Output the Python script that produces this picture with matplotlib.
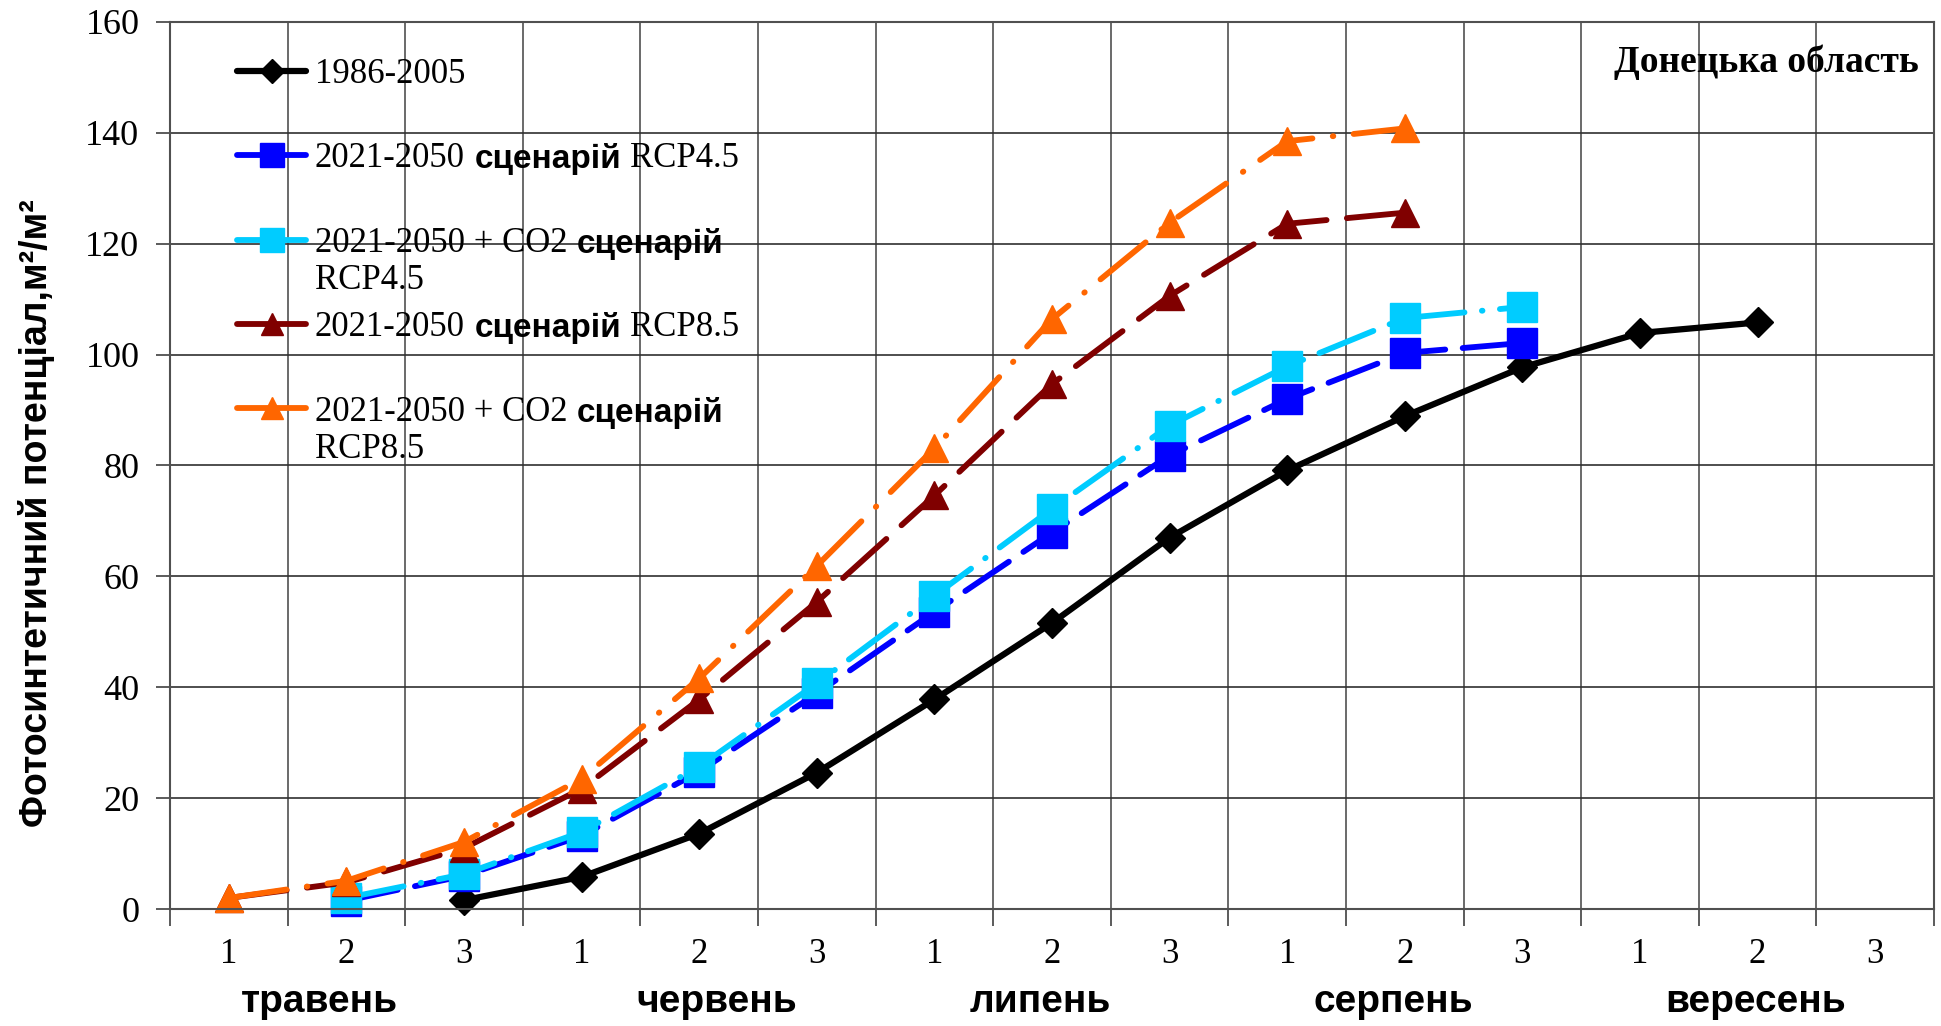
import numpy as np
import matplotlib.pyplot as plt
from matplotlib.lines import Line2D

nan = np.nan
months = ['травень', 'червень', 'липень', 'серпень', 'вересень']
month_pos = [0.77, 4.15, 6.9, 9.9, 12.98]  # where the month captions sit
decades = ['1', '2', '3'] * 5

base = [nan, nan, 1.6, 5.8, 13.6, 24.6, 37.8, 51.6, 67, 79.1, 88.9, 97.7, 103.9, 105.8, nan]
rcp45 = [nan, 1.5, 6.0, 13.2, 24.8, 38.9, 53.6, 67.9, 81.8, 92.0, 100.3, 102.1, nan, nan, nan]
rcp45_co2 = [nan, 2.0, 6.3, 13.9, 25.7, 40.7, 56.5, 72.2, 87.2, 97.9, 106.6, 108.6, nan, nan, nan]
rcp85 = [2.0, 4.8, 11.0, 21.7, 37.8, 55.4, 74.6, 94.7, 110.6, 123.6, 125.6, nan, nan, nan, nan]
rcp85_co2 = [2.0, 5.1, 12.1, 23.5, 41.6, 61.9, 83.1, 106.4, 123.8, 138.5, 140.8, nan, nan, nan, nan]

serif = 'Liberation Serif'
narrow = ['Liberation Sans Narrow', 'Liberation Sans']

fig = plt.figure(figsize=(19.41, 10.26), dpi=100)
ax = fig.add_axes([0.0876, 0.114, 0.9088, 0.8646])
x = np.arange(15)

series = [
    (base, 'black', '-', 'D', 15),
    (rcp45, '#0000FF', (0, (9, 3)), 's', 21),
    (rcp45_co2, '#00CCFF', (0, (10, 3, 0.1, 3)), 's', 21),
    (rcp85, '#800000', (0, (10, 3.5)), '^', 20),
    (rcp85_co2, '#FF6600', (0, (10, 3.5, 0.1, 3.5)), '^', 20),
]
handles = []
for vals, col, ls, mk, ms in series:
    lw = 4.5 if col == 'black' else 4.2
    ax.plot(x, vals, color=col, linestyle=ls, lw=lw, marker=mk, ms=ms,
            dash_capstyle='round', solid_capstyle='round', clip_on=False)
    handles.append(Line2D([], [], color=col, lw=lw, marker=mk, ms=ms * 0.8,
                          solid_capstyle='round'))

ax.set_xlim(-0.5, 14.5)
ax.set_ylim(0, 160)
ax.set_yticks(np.arange(0, 161, 20))
ax.set_yticklabels([str(v) for v in range(0, 161, 20)], family=serif, fontsize=26)
ax.set_xticks(x)
ax.set_xticklabels(decades, family=serif, fontsize=25)
ax.set_xticks(np.arange(-0.5, 15, 1), minor=True)
ax.tick_params(axis='x', which='major', length=0, pad=21)
ax.tick_params(axis='x', which='minor', length=12, width=1.2, color='#404040')
ax.tick_params(axis='y', length=10, width=1.2, color='#404040', pad=12)
ax.grid(True, axis='y', color='#303030', lw=1.2)
ax.grid(True, axis='x', which='minor', color='#505050', lw=1.2)
ax.set_axisbelow(True)
for s in ax.spines.values():
    s.set_color('#505050')
    s.set_linewidth(1.5)

for m, p in zip(months, month_pos):
    ax.text(p, -0.105, m, transform=ax.get_xaxis_transform(), ha='center', va='center',
            family=narrow, fontweight='bold', fontsize=28)

ax.set_ylabel('Фотосинтетичний потенціал,м²/м²', family=narrow, fontweight='bold',
              fontsize=27)
ax.yaxis.set_label_coords(-0.065, 0.446)

ax.text(0.9915, 0.955, 'Донецька область', transform=ax.transAxes, ha='right', va='center',
        family=serif, fontweight='bold', fontsize=27)

first = ['1986-2005', '2021-2050', '2021-2050 + CO2', '2021-2050', '2021-2050 + CO2']
tails = [None, ('сценарій', 'RCP4.5', False), ('сценарій', 'RCP4.5', True),
         ('сценарій', 'RCP8.5', False), ('сценарій', 'RCP8.5', True)]
leg = ax.legend(handles, first, loc='upper left', bbox_to_anchor=(0.03, 0.975),
                frameon=False, borderaxespad=0, handlelength=2.0, handletextpad=0.25,
                labelspacing=1.48, prop={'family': serif, 'size': 25})
for t, tail in zip(leg.get_texts(), tails):
    if tail is None:
        continue
    word, rcp, wrap = tail
    w = ax.annotate(word, xy=(1, 0), xycoords=t, xytext=(7, 0), textcoords='offset points',
                    va='bottom', family=narrow[1], fontweight='bold', fontsize=24, zorder=6)
    if wrap:
        ax.annotate(rcp, xy=(0, 0), xycoords=t, xytext=(0, -3), textcoords='offset points',
                    va='top', family=serif, fontsize=25, zorder=6)
    else:
        ax.annotate(rcp, xy=(1, 0), xycoords=w, xytext=(6, 0), textcoords='offset points',
                    va='bottom', family=serif, fontsize=25, zorder=7)

fig.savefig('out.png', dpi=100)
